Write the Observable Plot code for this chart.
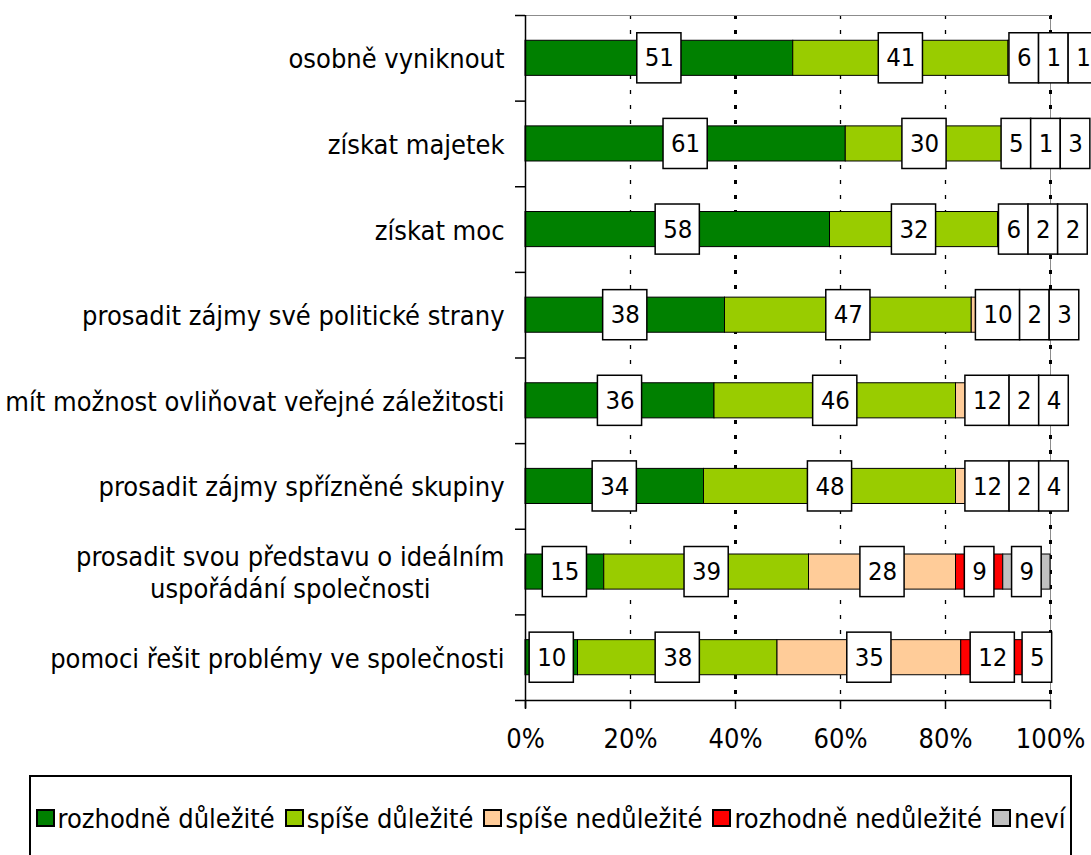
<!DOCTYPE html>
<html><head><meta charset="utf-8">
<script src="https://cdn.jsdelivr.net/npm/d3@7"></script>
<script src="https://cdn.jsdelivr.net/npm/@observablehq/plot@0.6"></script>
<style>
html,body{margin:0;padding:0;background:#fff;}
#wrap{position:relative;width:1091px;height:855px;overflow:hidden;background:#fff;font-family:"DejaVu Sans Condensed","DejaVu Sans",sans-serif;}
#legend{position:absolute;left:29px;top:775px;width:1043px;height:86px;box-sizing:border-box;border:2px solid #000;display:flex;align-items:center;justify-content:center;font-size:27px;color:#000;white-space:nowrap;}
#legend .item{display:flex;align-items:center;margin:0 5px;}
#legend .sw{display:inline-block;width:19px;height:18px;box-sizing:border-box;border:2px solid #000;margin-right:3px;}
</style></head><body>
<div id="wrap"><div id="chart"></div><div id="legend"></div></div>
<script>
const categories = [
  "osobně vyniknout",
  "získat majetek",
  "získat moc",
  "prosadit zájmy své politické strany",
  "mít možnost ovliňovat veřejné záležitosti",
  "prosadit zájmy spřízněné skupiny",
  "prosadit svou představu o ideálním\nuspořádání společnosti",
  "pomoci řešit problémy ve společnosti"
];
const series = ["rozhodně důležité","spíše důležité","spíše nedůležité","rozhodně nedůležité","neví"];
const colors = ["#008000","#99CC00","#FFCC99","#FF0000","#C0C0C0"];
const rozhodneDulezite   = [51,61,58,38,36,34,15,10];
const spiseDulezite      = [41,30,32,47,46,48,39,38];
const spiseNedulezite    = [6,5,6,10,12,12,28,35];
const rozhodneNedulezite = [1,1,2,2,2,2,9,12];
const nevi               = [1,3,2,3,4,4,9,5];
const xTicks = [0,20,40,60,80,100];
const gridThin = [20,60,80];
const gridThick = [40,100];

const seriesValues = [rozhodneDulezite, spiseDulezite, spiseNedulezite, rozhodneNedulezite, nevi];

// layout
const W = 1091, H = 765, mL = 525, mR = 41, mT = 15, mB = 65;
const pxPerUnit = (W - mL - mR) / 100;
const step = (H - mT - mB) / categories.length;
const FONT = '"DejaVu Sans Condensed", "DejaVu Sans", sans-serif';
const catSize = 27, numSize = 25.5, boxPad = 7.5;

const ctx = document.createElement("canvas").getContext("2d");
function measure(t, size) { ctx.font = `${size}px "DejaVu Sans Condensed", "DejaVu Sans"`; return ctx.measureText(t).width; }

const rows = categories.flatMap((c, i) => series.map((s, j) => ({category: c, series: s, value: seriesValues[j][i]})));

// data labels with left-to-right dodge
const labels = [];
categories.forEach((c, i) => {
  let acc = 0, prevRight = -Infinity;
  series.forEach((s, j) => {
    const v = seriesValues[j][i];
    const mid = acc + v / 2; acc += v;
    const w = (measure(String(v), numSize) + 2 * boxPad) / pxPerUnit;
    let left = mid - w / 2;
    if (left < prevRight) left = prevRight;
    prevRight = left + w;
    labels.push({category: c, value: v, x1: left, x2: left + w, cx: left + w / 2});
  });
});

const catMarks = categories.map(c => {
  const wmax = d3.max(c.split("\n"), l => measure(l, catSize));
  return Plot.text([c], {x: 0, y: d => d, text: d => d, textAnchor: "middle", dx: -(21 + wmax / 2),
    fontSize: catSize, lineHeight: 1.15, fill: "#000"});
});

const chart = Plot.plot({
  width: W, height: H,
  marginLeft: mL, marginRight: mR, marginTop: mT, marginBottom: mB,
  style: {fontFamily: FONT, background: "#fff", color: "#000", overflow: "visible"},
  x: {domain: [0, 100], axis: null},
  y: {domain: categories, paddingInner: 0.59, paddingOuter: 0.295, round: false, axis: null},
  color: {domain: series, range: colors},
  marks: [
    Plot.ruleX(gridThin, {stroke: "#000", strokeWidth: 1.3, strokeDasharray: "4,11"}),
    Plot.ruleX([100], {stroke: "#8c8c8c", strokeWidth: 1}),
    Plot.ruleX(gridThick, {stroke: "#000", strokeWidth: 3, strokeDasharray: "4,11"}),
    Plot.ruleY([categories[0]], {y: d => d, dy: -step / 2, stroke: "#8c8c8c", strokeWidth: 1}),
    Plot.barX(rows, Plot.stackX({x: "value", y: "category", fill: "series", order: series, stroke: "#000", strokeWidth: 1})),
    Plot.ruleX([0], {stroke: "#000", strokeWidth: 1.5, insetBottom: -8}),
    Plot.ruleY(categories, {y: d => d, dy: -step / 2, x1: 0, x2: 0, insetLeft: -10, stroke: "#000", strokeWidth: 1.5}),
    Plot.ruleY([categories[categories.length - 1]], {y: d => d, dy: step / 2, x1: 0, x2: 100, insetLeft: -10, stroke: "#000", strokeWidth: 1.5}),
    Plot.axisX({ticks: xTicks, tickFormat: d => d + "%", tickSize: 9, tickPadding: 19, fontSize: catSize, stroke: "#000", strokeWidth: 1.5, fill: "#000"}),
    Plot.barX(labels, {x1: "x1", x2: "x2", y: "category", fill: "#fff", stroke: "#000", strokeWidth: 1.5, insetTop: -7.5, insetBottom: -7.5}),
    Plot.text(labels, {x: "cx", y: "category", text: d => String(d.value), fontSize: numSize, fill: "#000"}),
    ...catMarks
  ]
});
document.getElementById("chart").appendChild(chart);

// legend
const lg = document.getElementById("legend");
series.forEach((s, j) => {
  const it = document.createElement("span"); it.className = "item";
  const sw = document.createElement("span"); sw.className = "sw"; sw.style.background = colors[j];
  const tx = document.createElement("span"); tx.textContent = s;
  it.appendChild(sw); it.appendChild(tx); lg.appendChild(it);
});
</script>
</body></html>
